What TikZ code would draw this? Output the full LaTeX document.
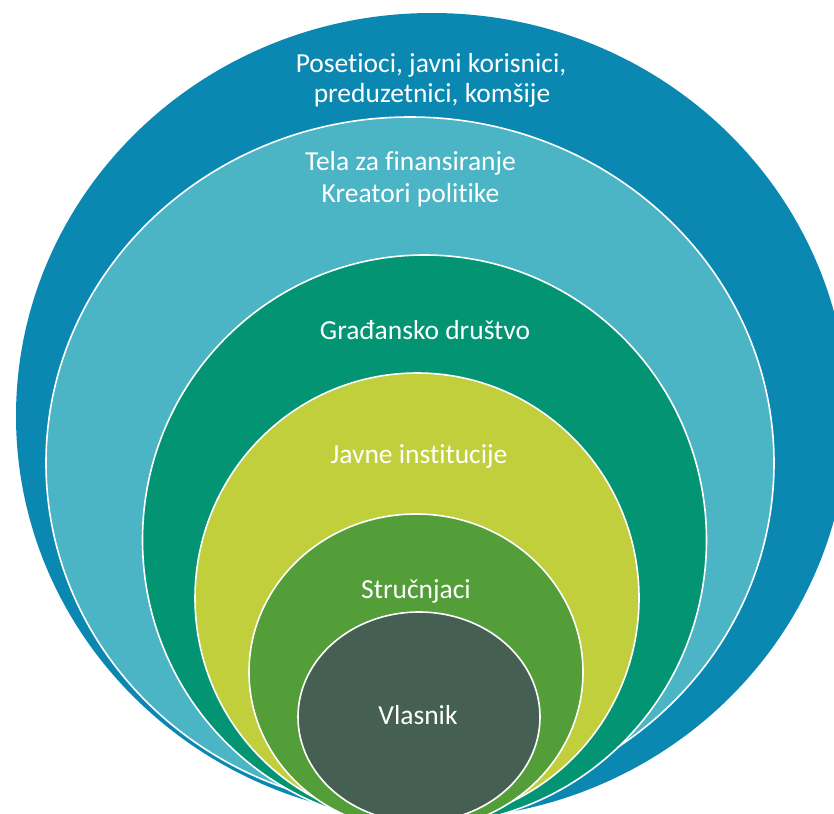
\documentclass[tikz,border=0pt]{standalone}
\usepackage{fontspec}
\setmainfont{Carlito}[Ligatures={NoCommon}]
\definecolor{cOuter}{HTML}{0B88B2}
\definecolor{cLight}{HTML}{4BB4C5}
\definecolor{cTeal}{HTML}{039473}
\definecolor{cYellow}{HTML}{C1CF3C}
\definecolor{cGreen}{HTML}{539E39}
\definecolor{cDark}{HTML}{456052}
\begin{document}
\begin{tikzpicture}[x=1pt,y=-1pt,
  ring/.style={draw=white,line width=1.6pt},
  lbl/.style={text=white,font=\fontsize{27.5}{33}\selectfont,anchor=base,inner sep=0pt}]
\useasboundingbox (0,0) rectangle (834,813);
\clip (0,0) rectangle (834,813);
\fill[cOuter] (432,416) ellipse [x radius=416, y radius=403];
\draw[ring,fill=cLight] (410,463) ellipse [x radius=364, y radius=346];
\draw[ring,fill=cTeal] (424.5,540) ellipse [x radius=282, y radius=285];
\draw[ring,fill=cYellow] (417,598) ellipse [x radius=222, y radius=225];
\draw[ring,fill=cGreen] (416,672) ellipse [x radius=167, y radius=158];
\draw[ring,fill=cDark] (419,717) ellipse [x radius=121, y radius=105];
\node[lbl] (t1a) at (431,73) {Posetioci, javni korisnici,};
\node[lbl] (t1b) at (432,103) {preduzetnici, komšije};
\node[lbl] (t2a) at (410.5,171) {Tela za finansiranje};
\node[lbl] (t2b) at (410.5,202) {Kreatori politike};
\node[lbl] (t3) at (425,339) {Građansko društvo};
\node[lbl] (t4) at (419,463) {Javne institucije};
\node[lbl] (t5) at (416,598) {Stručnjaci};
\node[lbl] (t6) at (418,724) {Vlasnik};
\end{tikzpicture}
\end{document}
